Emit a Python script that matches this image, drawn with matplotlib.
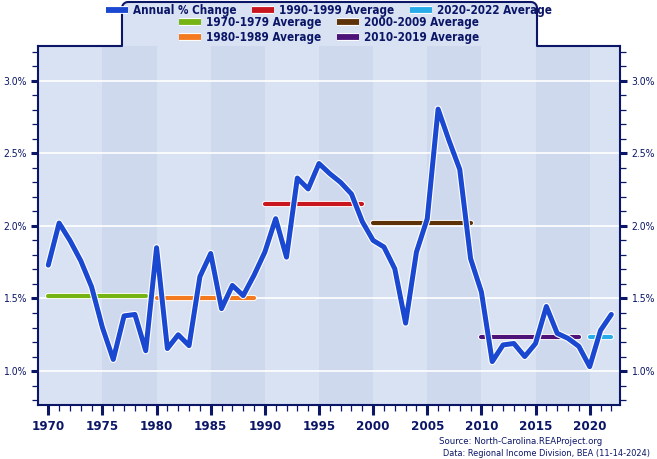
import matplotlib
matplotlib.use("Agg")
import matplotlib.pyplot as plt
import matplotlib.patheffects as pe
from matplotlib import font_manager as fm
from matplotlib.lines import Line2D
from matplotlib.ticker import MultipleLocator, FuncFormatter
import numpy as np

# ---------------- data ----------------
years = list(range(1970, 2023))
annual_change = [1.73, 2.02, 1.90, 1.76, 1.58, 1.30, 1.08, 1.38, 1.39, 1.14,
                 1.85, 1.155, 1.25, 1.175, 1.65, 1.81, 1.43, 1.59, 1.52, 1.66,
                 1.82, 2.05, 1.785, 2.33, 2.255, 2.43, 2.36, 2.30, 2.22, 2.03,
                 1.90, 1.855, 1.705, 1.33, 1.82, 2.05, 2.805, 2.59, 2.39, 1.775,
                 1.545, 1.065, 1.18, 1.19, 1.10, 1.19, 1.445, 1.26, 1.225, 1.17,
                 1.03, 1.28, 1.39]
avg_labels = ["1970-1979 Average", "1980-1989 Average", "1990-1999 Average",
              "2000-2009 Average", "2010-2019 Average", "2020-2022 Average"]
avg_start = [1970, 1980, 1990, 2000, 2010, 2020]
avg_end = [1979, 1989, 1999, 2009, 2019, 2022]
avg_values = [1.515, 1.506, 2.15, 2.02, 1.237, 1.233]
avg_colors = ["#76b416", "#f47a1f", "#c9161e", "#5e3208", "#4d1378", "#27acea"]
line_color = "#1a48d0"
navy = "#0b1667"

# ---------------- fonts ----------------
names = {f.name for f in fm.fontManager.ttflist}
if "Liberation Sans Narrow" in names:
    FONT = dict(family="Liberation Sans Narrow")
else:
    FONT = dict(family="DejaVu Sans", stretch="condensed")

W, H = 657, 459
fig = plt.figure(figsize=(W / 100, H / 100), dpi=100)
fig.patch.set_facecolor("white")

ax_l, ax_r, ax_t, ax_b = 38, 620, 46, 405
ax = fig.add_axes([ax_l / W, 1 - ax_b / H, (ax_r - ax_l) / W, (ax_b - ax_t) / H])
ax.set_facecolor("#d9e2f3")
ax.set_xlim(1969.05, 2022.8)
ax.set_ylim(0.766, 3.24)

for s in range(1975, 2021, 10):
    ax.axvspan(s, s + 5, color="#ced9ee", lw=0, zorder=0)

for v in [1.0, 1.5, 2.0, 2.5, 3.0]:
    ax.axhline(v, color="white", lw=1.2, zorder=1)

for s, e, v, c in zip(avg_start, avg_end, avg_values, avg_colors):
    ax.plot([s, e], [v, v], color=c, lw=3.0, solid_capstyle="round",
            path_effects=[pe.Stroke(linewidth=4.4, foreground="white"), pe.Normal()],
            zorder=3)
ax.plot(years, annual_change, color=line_color, lw=3.6, solid_joinstyle="round",
        solid_capstyle="round",
        path_effects=[pe.Stroke(linewidth=5.2, foreground="white"), pe.Normal()],
        zorder=4)

# ticks
ax.xaxis.set_major_locator(MultipleLocator(5))
ax.xaxis.set_minor_locator(MultipleLocator(1))
ax.yaxis.set_major_locator(MultipleLocator(0.5))
ax.yaxis.set_minor_locator(MultipleLocator(0.1))
ax.yaxis.set_major_formatter(FuncFormatter(lambda v, p: f"{v:.1f}%"))
ax.tick_params(axis="both", which="major", direction="out", color=navy,
               width=2.2, labelcolor=navy)
ax.tick_params(axis="both", which="minor", direction="out", color=navy,
               width=0.9, length=4.5)
ax.tick_params(axis="y", which="both", left=True, right=True,
               labelleft=True, labelright=True)
ax.tick_params(axis="y", which="major", length=5, pad=3)
ax.tick_params(axis="x", which="major", length=7, pad=4)
for lab in ax.get_xticklabels():
    lab.set_fontsize(9.5); lab.set_fontweight("bold"); lab.set_fontfamily(FONT["family"])
    if "stretch" in FONT: lab.set_fontstretch(FONT["stretch"])
for lab in ax.get_yticklabels():
    lab.set_fontsize(7.5); lab.set_color(navy); lab.set_fontfamily(FONT["family"])
    if "stretch" in FONT: lab.set_fontstretch(FONT["stretch"])
for side in ["left", "right", "bottom"]:
    ax.spines[side].set_color(navy)
    ax.spines[side].set_linewidth(1.5)
ax.spines["top"].set_visible(False)

# top border with legend tab
lx0, lx1, ly0 = 122, 537, 2
r = 6
xs = [ax_l, lx0, lx0] + [lx0 + r - r * np.cos(a) for a in np.linspace(0, np.pi / 2, 8)] + \
     [lx1 - r + r * np.sin(a) for a in np.linspace(0, np.pi / 2, 8)] + [lx1, lx1, ax_r]
ys = [ax_t, ax_t, ly0 + r] + [ly0 + r - r * np.sin(a) for a in np.linspace(0, np.pi / 2, 8)] + \
     [ly0 + r - r * np.cos(a) for a in np.linspace(0, np.pi / 2, 8)] + [ly0 + r, ax_t, ax_t]
fx = [x / W for x in xs]
fy = [1 - y / H for y in ys]
fig.patches.append(plt.Polygon(list(zip(fx[1:-1], fy[1:-1])), closed=True,
                               transform=fig.transFigure, facecolor="#d9e2f3",
                               edgecolor="none", zorder=0))
fig.lines.append(Line2D(fx, fy, transform=fig.transFigure, color=navy, lw=1.5))

# legends
def h(c):
    return Line2D([], [], color=c, lw=4.2, solid_capstyle="butt",
                  path_effects=[pe.Stroke(linewidth=5.6, foreground="white"), pe.Normal()])

lfont = dict(size=8.4, weight="bold", **FONT)
leg1 = fig.legend([h(line_color), h(avg_colors[2]), h(avg_colors[5])],
                  ["Annual % Change", avg_labels[2], avg_labels[5]],
                  loc="center", bbox_to_anchor=(329 / W, 1 - 10.5 / H), ncol=3,
                  frameon=False, prop=lfont, handlelength=1.9, handletextpad=0.45,
                  columnspacing=1.3, borderpad=0, labelcolor=navy)
leg2 = fig.legend([h(avg_colors[0]), h(avg_colors[1]), h(avg_colors[3]), h(avg_colors[4])],
                  [avg_labels[0], avg_labels[1], avg_labels[3], avg_labels[4]],
                  loc="center", bbox_to_anchor=(329 / W, 1 - 30 / H), ncol=2,
                  frameon=False, prop=lfont, handlelength=1.9, handletextpad=0.45,
                  columnspacing=1.3, borderpad=0, labelspacing=0.12, labelcolor=navy)

# source
fig.text(439 / W, 1 - 441 / H, "Source: North-Carolina.REAProject.org", fontsize=6.8,
         color=navy, va="center", ha="left", **FONT)
fig.text(443 / W, 1 - 453 / H, "Data: Regional Income Division, BEA (11-14-2024)",
         fontsize=6.55, color=navy, va="center", ha="left", **FONT)

fig.savefig("out.png", dpi=100)
